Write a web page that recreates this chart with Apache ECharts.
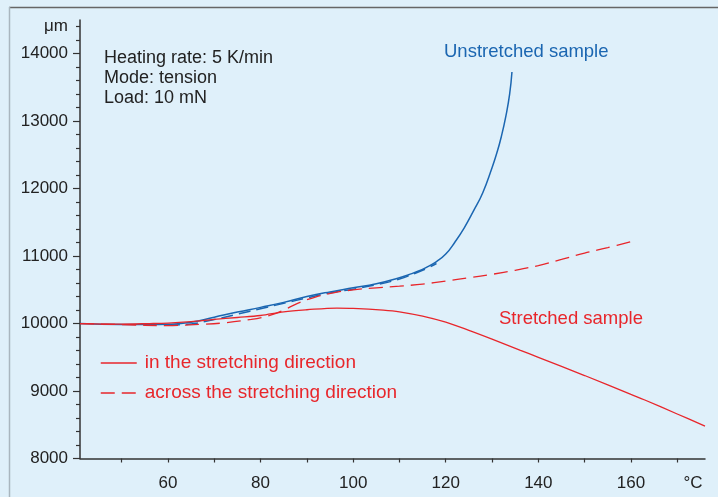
<!DOCTYPE html>
<html>
<head>
<meta charset="utf-8">
<script src="https://cdn.jsdelivr.net/npm/echarts@6/dist/echarts.min.js"></script>
<style>
html,body{margin:0;padding:0;background:#dff0fa;}
#c{width:718px;height:497px;}
</style>
</head>
<body>
<div id="c"></div>
<script>
// ---- data ----
var unstretchedTemps = [41, 50, 56, 60, 65, 70, 75, 80, 85, 90, 95, 100, 105, 110, 112, 114, 116, 118, 120, 122, 124, 126, 128, 130, 131, 132, 133, 133.8, 134.3];
var unstretchedValues = [10000, 9985, 9985, 9990, 10020, 10095, 10170, 10240, 10314, 10400, 10470, 10530, 10590, 10680, 10725, 10775, 10840, 10920, 11030, 11210, 11420, 11670, 11940, 12310, 12520, 12770, 13080, 13400, 13730];
var unstretchedAcrossTemps = [60, 65, 70, 75, 80, 85, 90, 95, 100, 105, 110, 115, 118];
var unstretchedAcrossValues = [9975, 9995, 10060, 10140, 10220, 10300, 10380, 10455, 10510, 10575, 10660, 10790, 10890];
var stretchedAlongTemps = [41, 50, 56, 60, 65, 70, 75, 80, 85, 90, 96.5, 100, 106.5, 110, 115, 120, 125, 130, 136, 140, 150, 160, 163, 170, 176];
var stretchedAlongValues = [10000, 9992, 10000, 10008, 10030, 10062, 10090, 10120, 10175, 10205, 10230, 10226, 10200, 10175, 10110, 10020, 9900, 9770, 9607, 9500, 9230, 8950, 8867, 8660, 8481];
var stretchedAcrossTemps = [41, 50, 60, 67, 72, 78, 82, 85, 88, 92, 96, 100, 105, 110, 115, 120, 125, 130, 135, 140, 145, 150, 155, 160];
var stretchedAcrossValues = [10000, 9985, 9970, 9988, 10010, 10062, 10120, 10200, 10300, 10397, 10460, 10500, 10530, 10555, 10585, 10630, 10680, 10730, 10790, 10860, 10950, 11045, 11125, 11215];

var xTickValues = [50, 60, 70, 80, 90, 100, 110, 120, 130, 140, 150, 160, 170];
var xLabelValues = [60, 80, 100, 120, 140, 160];
var xUnitPos = 173.4;
var yMajorTicks = [8000, 9000, 10000, 11000, 12000, 13000, 14000];
var yMinorTicks = [8200, 8400, 8600, 8800, 9200, 9400, 9600, 9800, 10200, 10400, 10600, 10800, 11200, 11400, 11600, 11800, 12200, 12400, 12600, 12800, 13200, 13400, 13600, 13800, 14200, 14400];
var yUnitPos = 14400;

var legendNames = ['in the stretching direction', 'across the stretching direction'];
var infoLines = ['Heating rate: 5 K/min', 'Mode: tension', 'Load: 10 mN'];

function zip(a, b) { return a.map(function (v, i) { return [v, b[i]]; }); }

var FONT = '"Liberation Sans", Arial, sans-serif';
var RED = '#e8262b';
var BLUE = '#1b66b1';

var chart = echarts.init(document.getElementById('c'));
chart.setOption({
  backgroundColor: '#dff0fa',
  animation: false,
  grid: { left: 80, right: 13, top: 20, bottom: 38.5 },
  legend: {
    data: legendNames,
    orient: 'vertical',
    left: 100,
    top: 353,
    padding: 0,
    itemWidth: 36,
    itemHeight: 14,
    itemGap: 10,
    itemStyle: { opacity: 0 },
    lineStyle: { width: 1.5 },
    textStyle: { color: RED, fontSize: 19, fontFamily: FONT, lineHeight: 20, padding: [0, 0, 0, 3] }
  },
  xAxis: {
    type: 'value',
    min: 41,
    max: 176,
    axisLine: { lineStyle: { color: '#333', width: 1.5 } },
    axisTick: { show: true, length: 4, customValues: xTickValues, lineStyle: { color: '#333', width: 1.2 } },
    axisLabel: {
      customValues: xLabelValues.concat([xUnitPos]),
      margin: 16,
      color: '#222',
      fontSize: 17,
      fontFamily: FONT,
      formatter: function (v) { return v === xUnitPos ? '°C' : String(v); }
    },
    splitLine: { show: false }
  },
  yAxis: [{
    type: 'value',
    min: 8000,
    max: 14500,
    interval: 1000,
    axisLine: { show: true, lineStyle: { color: '#333', width: 1.5 } },
    axisTick: { show: true, length: 4, customValues: yMinorTicks, lineStyle: { color: '#333', width: 1.2 } },
    axisLabel: {
      customValues: yMajorTicks.concat([yUnitPos]),
      margin: 12,
      color: '#222',
      fontSize: 17,
      fontFamily: FONT,
      formatter: function (v) { return v === yUnitPos ? 'μm' : String(v); }
    },
    splitLine: { show: false }
  }, {
    type: 'value',
    position: 'left',
    min: 8000,
    max: 14500,
    interval: 1000,
    axisLine: { show: false },
    axisTick: { show: true, length: 7, customValues: yMajorTicks, lineStyle: { color: '#333', width: 1.2 } },
    axisLabel: { show: false },
    splitLine: { show: false }
  }],
  series: [
    {
      name: 'unstretched across',
      type: 'line',
      data: zip(unstretchedAcrossTemps, unstretchedAcrossValues),
      symbol: 'none',
      smooth: 0.35,
      lineStyle: { color: BLUE, width: 1.5, type: [12, 6] }
    },
    {
      name: 'Unstretched sample',
      type: 'line',
      data: zip(unstretchedTemps, unstretchedValues),
      symbol: 'none',
      smooth: 0.5,
      lineStyle: { color: BLUE, width: 1.5 }
    },
    {
      name: legendNames[0],
      type: 'line',
      data: zip(stretchedAlongTemps, stretchedAlongValues),
      symbol: 'none',
      smooth: 0.35,
      itemStyle: { color: RED },
      lineStyle: { color: RED, width: 1.3 }
    },
    {
      name: legendNames[1],
      type: 'line',
      data: zip(stretchedAcrossTemps, stretchedAcrossValues),
      symbol: 'none',
      smooth: 0.35,
      itemStyle: { color: RED },
      lineStyle: { color: RED, width: 1.3, type: [14, 7] }
    }
  ],
  graphic: [
    { type: 'line', shape: { x1: 9, y1: 7.5, x2: 718, y2: 7.5 }, style: { stroke: '#666', lineWidth: 1.5 }, silent: true },
    { type: 'line', shape: { x1: 9.5, y1: 7, x2: 9.5, y2: 497 }, style: { stroke: '#a9b6bf', lineWidth: 1.5 }, silent: true },
    { type: 'text', left: 104, top: 48, style: { text: infoLines.join('\n'), fill: '#222', font: '18px ' + FONT, lineHeight: 20 } },
    { type: 'text', left: 444, top: 42, style: { text: 'Unstretched sample', fill: BLUE, font: '18.5px ' + FONT } },
    { type: 'text', left: 499, top: 309, style: { text: 'Stretched sample', fill: RED, font: '18.5px ' + FONT } }
  ]
});
</script>
</body>
</html>
